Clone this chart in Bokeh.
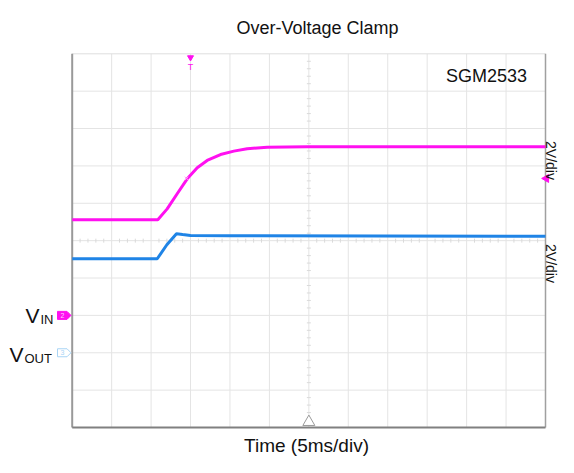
import numpy as np
from bokeh.plotting import figure
from bokeh.models import Range1d, Label
from bokeh.embed import file_html
from bokeh.resources import INLINE

# ---------------- data ----------------
ms_per_div = 5
volts_per_div = 2
n_xdiv = 12
n_ydiv = 10
vin_ground_div = 3
vout_ground_div = 2

vin_t = [0, 10.85, 12.04, 13.31, 14.58, 15.85, 17.11, 18.80, 20.49, 22.18, 24.72, 29.8, 60]
vin_v = [5.12, 5.12, 5.70, 6.51, 7.31, 7.90, 8.29, 8.61, 8.79, 8.92, 9.00, 9.03, 9.02]

vout_t = [0, 10.78, 12.0, 13.22, 14.0, 15.0, 20.0, 60]
vout_v = [5.03, 5.03, 5.78, 6.37, 6.33, 6.28, 6.26, 6.23]

trig_t = 15.0
trig_level_v = 7.33
trig_point_t = 14.5

title_text = "Over-Voltage Clamp"
part_text = "SGM2533"
xlabel_text = "Time (5ms/div)"
scale_text = "2V/div"

MAG = "#ff10f0"
BLUE = "#1f84e6"
FONT = "Liberation Sans"

# ---------------- geometry ----------------
FIG_W, FIG_H = 558, 457
FL, FR, FT, FB = 71.7, 545.0, 53.3, 427.0
xs = (FR - FL) / (n_xdiv * ms_per_div)
x0 = -FL / xs
x1 = x0 + FIG_W / xs
ys = (FB - FT) / n_ydiv
y1 = n_ydiv + FT / ys
y0 = y1 - FIG_H / ys


def X(px):
    return x0 + px / xs


def Y(py):
    return y1 - py / ys


t_end = n_xdiv * ms_per_div

p = figure(width=FIG_W, height=FIG_H, x_range=Range1d(x0, x1), y_range=Range1d(y0, y1),
           output_backend="svg", toolbar_location=None, x_axis_type=None, y_axis_type=None,
           min_border=0, outline_line_color=None, title=None,
           background_fill_color="white", border_fill_color="white")

# grid
gx = [k * ms_per_div for k in range(1, n_xdiv)]
gy = list(range(1, n_ydiv))
p.multi_line(xs=[[g, g] for g in gx], ys=[[0, n_ydiv]] * len(gx), line_color="#e4e4e4", line_width=1)
p.multi_line(xs=[[0, t_end]] * len(gy), ys=[[g, g] for g in gy], line_color="#e4e4e4", line_width=1)
p.line([0, t_end], [n_ydiv, n_ydiv], line_color="#dedede", line_width=1)

# center minor ticks
cx = t_end / 2
cy = n_ydiv / 2
tick_y = [j * 0.2 for j in range(1, n_ydiv * 5) if j % 5 != 0]
tick_x = [j * ms_per_div * 0.2 for j in range(1, n_xdiv * 5) if j % 5 != 0]
hx = 2.0 / xs
hy = 2.0 / ys
p.multi_line(xs=[[cx - hx, cx + hx]] * len(tick_y), ys=[[v, v] for v in tick_y], line_color="#dadada", line_width=1)
p.multi_line(xs=[[v, v] for v in tick_x], ys=[[cy - hy, cy + hy]] * len(tick_x), line_color="#dadada", line_width=1)

# frame borders
p.line([0, 0], [0, n_ydiv], line_color="#999999", line_width=2)
p.line([t_end, t_end], [0, n_ydiv], line_color="#a0a0a0", line_width=1.5)
p.line([0, t_end], [0, 0], line_color="#808080", line_width=2)

# traces
vin_y = [vin_ground_div + v / volts_per_div for v in vin_v]
vout_y = [vout_ground_div + v / volts_per_div for v in vout_v]
p.line(vin_t, vin_y, line_color=MAG, line_width=3)
p.line(vout_t, vout_y, line_color=BLUE, line_width=3)

# trigger markers
trig_y = vin_ground_div + trig_level_v / volts_per_div
p.scatter([trig_point_t], [trig_y], marker="x", size=5, line_color="#ff9cf5", line_width=1)
p.scatter([trig_t], [Y(57)], marker="inverted_triangle", size=6, fill_color=MAG, line_color=MAG)
p.text([trig_t], [Y(66)], text=["T"], text_font_size="9px", text_color=MAG,
       text_align="center", text_baseline="middle")
p.scatter([t_end + 0.1], [trig_y], marker="triangle", angle=np.pi / 2, size=8,
          fill_color=MAG, line_color=MAG)
p.scatter([cx], [Y(421.5)], marker="triangle", size=12, fill_color="white",
          line_color="#9a9a9a", line_width=1)

# channel ground markers
def marker_shape(gnd):
    xl, xr, xt = X(57), X(66.5), X(70.5)
    h = 4.0 / ys
    return [xl, xr, xt, xr, xl], [gnd - h, gnd - h, gnd, gnd + h, gnd + h]

mx, my = marker_shape(vin_ground_div)
p.patch(mx, my, fill_color=MAG, line_color=MAG, line_width=1)
mx2, my2 = marker_shape(vout_ground_div)
p.patch(mx2, my2, fill_color="white", line_color="#a8d4f5", line_width=1)
p.text([X(62)], [vin_ground_div], text=["2"], text_font_size="7px", text_color="#ffd0ff",
       text_align="center", text_baseline="middle")
p.text([X(62)], [vout_ground_div], text=["3"], text_font_size="7px", text_color="#a8d4f5",
       text_align="center", text_baseline="middle")

# texts
def lab(px, py, txt, size, align="center", baseline="middle", angle=0.0, color="#111111"):
    p.add_layout(Label(x=X(px), y=Y(py), text=txt, text_font=FONT, text_font_size=size,
                       text_align=align, text_baseline=baseline, angle=angle, text_color=color))

lab(317, 27, title_text, "18px")
lab(486, 75, part_text, "18px")
lab(306, 445, xlabel_text, "19px")
lab(550, 160, scale_text, "14px", angle=-np.pi / 2)
lab(550, 263, scale_text, "14px", angle=-np.pi / 2)

lab(25, 315, "V", "21px", align="left")
lab(40, 319, "IN", "13px", align="left")
lab(9, 354, "V", "21px", align="left")
lab(24, 358, "OUT", "13px", align="left")

open("out.html", "w").write(file_html(p, INLINE))
